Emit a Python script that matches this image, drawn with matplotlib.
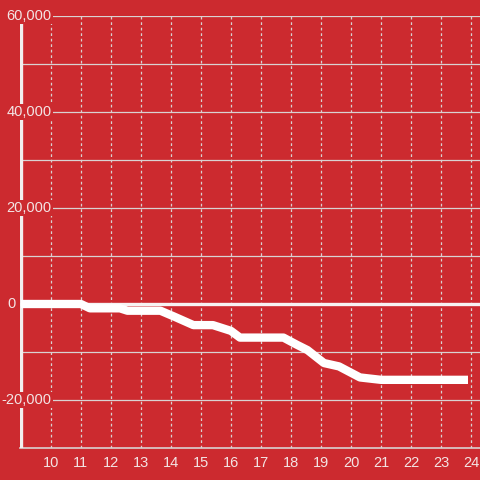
import matplotlib.pyplot as plt
import matplotlib.transforms as mtransforms

# Data
hours = [9.0, 11.0, 11.3, 12.3, 12.55, 13.65, 14.1, 14.75, 15.4, 15.7, 16.0, 16.3,
         17.75, 18.2, 18.55, 19.1, 19.6, 20.3, 21.0, 23.9]
values = [0, 0, -900, -900, -1400, -1400, -2600, -4400, -4400, -5000, -5600, -7000,
          -7000, -8500, -9600, -12300, -13000, -15300, -15800, -15800]
x_ticks = list(range(10, 25))
y_labels = [60000, 40000, 20000, 0, -20000]

bg = '#cc2a2f'
txt = '#f3e4e4'
grid_col = '#d9d2d2'

plt.rcParams['font.family'] = ['Liberation Sans', 'DejaVu Sans']

fig = plt.figure(figsize=(4.8, 4.8), dpi=100)
fig.patch.set_facecolor(bg)
ax = fig.add_axes([20 / 480, 32 / 480, 460 / 480, 432 / 480])
ax.set_facecolor(bg)
ax.set_xlim(8.97, 24.3)
ax.set_ylim(-30000, 60000)

for s in ax.spines.values():
    s.set_visible(False)

# horizontal grid every 10k
for yv in range(-20000, 60001, 10000):
    if yv == 0:
        continue
    ax.axhline(yv, color=grid_col, lw=0.9, zorder=1)
# vertical dotted grid
for xv in x_ticks:
    ax.axvline(xv, color=grid_col, lw=0.9, ls=(0, (2.2, 2.2)), zorder=1)

# axis lines
ax.axhline(-30000, color=grid_col, lw=1.2, zorder=2, clip_on=False)
ax.axvline(ax.get_xlim()[0] + 0.02, ymin=0, ymax=(448 - 24) / 432, color='#f2eeee', lw=2.4, zorder=2)
ax.axhline(0, color='#f7f3f3', lw=2.4, zorder=2, xmin=-0.004)

# the series
ax.plot(hours, values, color='white', lw=6.0, solid_capstyle='butt',
        solid_joinstyle='round', zorder=4)

# x tick labels
ax.set_xticks(x_ticks)
ax.set_yticks([])
ax.tick_params(axis='x', length=0, pad=6, labelsize=10.5, labelcolor=txt)

# y labels drawn inside the plot with a background that covers lines
offs = mtransforms.blended_transform_factory(fig.transFigure, ax.transData)
for yv in y_labels:
    lab = f'{yv:,}'
    xpos = 16 / 480 if yv == 0 else 51.5 / 480
    ax.text(xpos, yv, lab, transform=offs, ha='right', va='center',
            fontsize=10.5, color=txt, zorder=5,
            bbox=dict(facecolor=bg, edgecolor='none', pad=1.0))

fig.savefig('out.png', dpi=100, facecolor=bg)
